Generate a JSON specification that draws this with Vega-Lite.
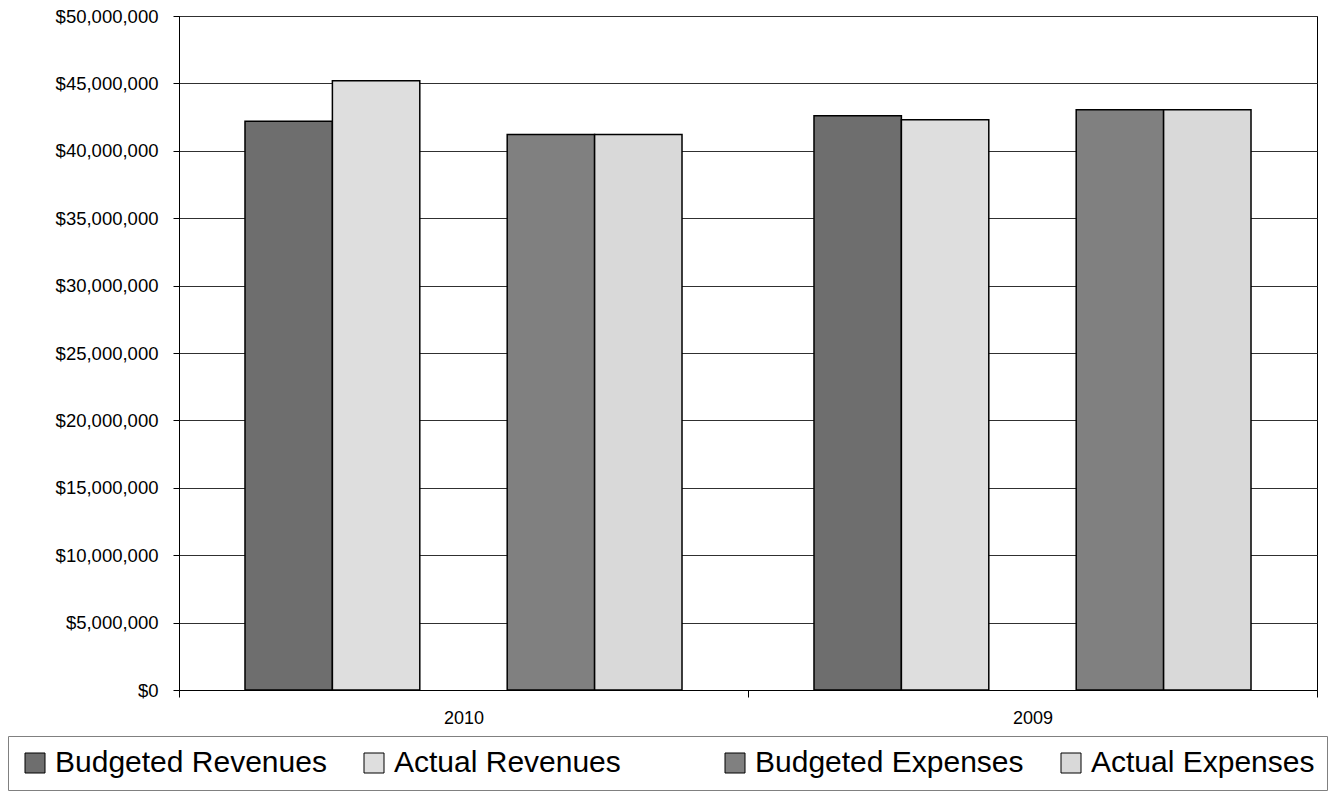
{
  "$schema": "https://vega.github.io/schema/vega-lite/v6.json",
  "width": 1138,
  "height": 674,
  "autosize": {"type": "none"},
  "padding": {"left": 179, "top": 16, "right": 14, "bottom": 109},
  "background": "white",
  "config": {
    "font": "Liberation Sans",
    "view": {"stroke": "black", "strokeWidth": 1}
  },
  "data": {
    "values": [
      {"year": "2010", "series": "Budgeted Revenues", "amount": 42200000},
      {"year": "2010", "series": "Actual Revenues", "amount": 45200000},
      {"year": "2010", "series": "Budgeted Expenses", "amount": 41200000},
      {"year": "2010", "series": "Actual Expenses", "amount": 41200000},
      {"year": "2009", "series": "Budgeted Revenues", "amount": 42600000},
      {"year": "2009", "series": "Actual Revenues", "amount": 42300000},
      {"year": "2009", "series": "Budgeted Expenses", "amount": 43050000},
      {"year": "2009", "series": "Actual Expenses", "amount": 43050000}
    ]
  },
  "mark": {"type": "bar", "strokeWidth": 1.5},
  "encoding": {
    "x": {
      "field": "year",
      "type": "nominal",
      "sort": ["2010", "2009"],
      "scale": {"paddingInner": 0, "paddingOuter": 0},
      "axis": {
        "title": null,
        "labelAngle": 0,
        "labelFontSize": 18,
        "labelColor": "black",
        "labelPadding": 12,
        "tickBand": "extent",
        "tickSize": 7,
        "tickColor": "black",
        "domainColor": "black",
        "grid": false
      }
    },
    "xOffset": {
      "field": "series",
      "type": "nominal",
      "scale": {
        "domain": ["Budgeted Revenues", "Actual Revenues", "", "Budgeted Expenses", "Actual Expenses"],
        "paddingInner": 0,
        "paddingOuter": 0.755
      }
    },
    "y": {
      "field": "amount",
      "type": "quantitative",
      "scale": {"domain": [0, 50000000], "nice": false},
      "axis": {
        "title": null,
        "values": [0, 5000000, 10000000, 15000000, 20000000, 25000000, 30000000, 35000000, 40000000, 45000000, 50000000],
        "format": "$,.0f",
        "labelFontSize": 18.5,
        "labelColor": "black",
        "labelPadding": 15,
        "tickSize": 6,
        "tickColor": "black",
        "domainColor": "black",
        "gridColor": "#303030",
        "gridWidth": 1
      }
    },
    "fill": {
      "field": "series",
      "type": "nominal",
      "scale": {
        "domain": ["Budgeted Revenues", "Actual Revenues", "", "Budgeted Expenses", "Actual Expenses"],
        "range": ["#6e6e6e", "#dedede", "transparent", "#808080", "#d9d9d9"]
      },
      "legend": {
        "title": null,
        "orient": "none",
        "legendX": -171,
        "legendY": 720,
        "direction": "horizontal",
        "columns": 5,
        "columnPadding": 32,
        "padding": 12,
        "strokeColor": "#808080",
        "fillColor": "white",
        "symbolType": "square",
        "symbolSize": 400,
        "symbolStrokeWidth": 1,
        "labelFontSize": 30,
        "labelColor": "black",
        "labelOffset": 5,
        "labelLimit": 400
      }
    },
    "stroke": {
      "field": "series",
      "type": "nominal",
      "scale": {
        "domain": ["Budgeted Revenues", "Actual Revenues", "", "Budgeted Expenses", "Actual Expenses"],
        "range": ["black", "black", "transparent", "black", "black"]
      },
      "legend": {
        "title": null,
        "orient": "none",
        "legendX": -171,
        "legendY": 720,
        "direction": "horizontal",
        "columns": 5,
        "columnPadding": 32,
        "padding": 12,
        "strokeColor": "#808080",
        "fillColor": "white",
        "symbolType": "square",
        "symbolSize": 400,
        "symbolStrokeWidth": 1,
        "labelFontSize": 30,
        "labelColor": "black",
        "labelOffset": 5,
        "labelLimit": 400
      }
    }
  }
}
